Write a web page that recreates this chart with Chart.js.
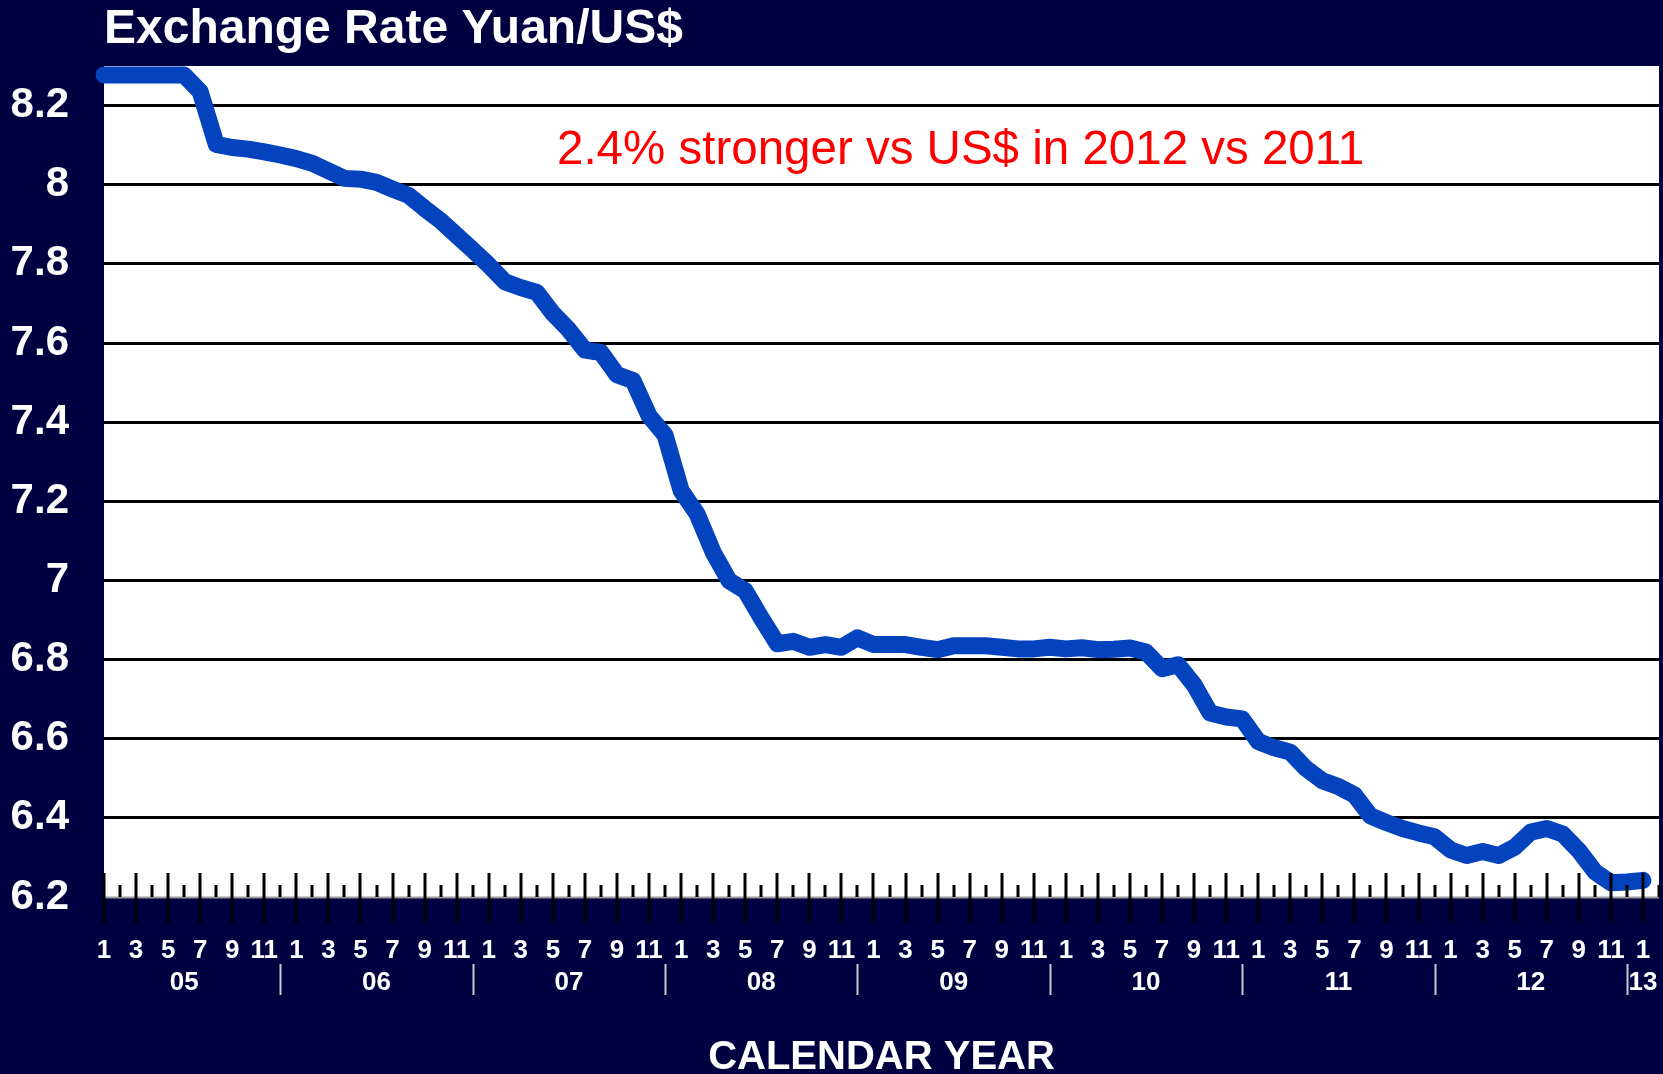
<!DOCTYPE html>
<html>
<head>
<meta charset="utf-8">
<script src="https://cdn.jsdelivr.net/npm/chart.js@4.4.1/dist/chart.umd.min.js"></script>
<style>
  html, body { margin: 0; padding: 0; background: #000040; }
  #wrap { width: 1663px; height: 1074px; position: relative; }
</style>
</head>
<body>
<div id="wrap"><canvas id="c"></canvas></div>
<script>
// ---------- data ----------
const years = ['05', '06', '07', '08', '09', '10', '11', '12', '13'];
const monthTickLabels = ['1', '3', '5', '7', '9', '11'];
// monthly Yuan per US$, Jan 2005 .. Jan 2013
const values = [
  8.277, 8.277, 8.277, 8.277, 8.277, 8.277, 8.235, 8.102, 8.094, 8.090, 8.083, 8.075, // 2005
  8.066, 8.054, 8.035, 8.016, 8.014, 8.006, 7.989, 7.973, 7.940, 7.909, 7.872, 7.835, // 2006
  7.797, 7.755, 7.740, 7.728, 7.675, 7.633, 7.582, 7.576, 7.520, 7.505, 7.416, 7.367, // 2007
  7.227, 7.168, 7.071, 6.999, 6.974, 6.905, 6.840, 6.846, 6.831, 6.838, 6.831, 6.855, // 2008
  6.838, 6.838, 6.838, 6.831, 6.825, 6.835, 6.835, 6.835, 6.831, 6.827, 6.827, 6.831, // 2009
  6.827, 6.830, 6.825, 6.826, 6.829, 6.819, 6.777, 6.787, 6.736, 6.665, 6.655, 6.650, // 2010
  6.593, 6.577, 6.566, 6.524, 6.494, 6.479, 6.458, 6.405, 6.388, 6.373, 6.362, 6.352, // 2011
  6.319, 6.305, 6.315, 6.305, 6.326, 6.364, 6.373, 6.359, 6.317, 6.264, 6.236, 6.238, // 2012
  6.242                                                                               // 2013
];
const yTicks = [6.2, 6.4, 6.6, 6.8, 7.0, 7.2, 7.4, 7.6, 7.8, 8.0, 8.2];
const titleText = 'Exchange Rate Yuan/US$';
const noteText = '2.4% stronger vs US$ in 2012 vs 2011';
const axisTitle = 'CALENDAR YEAR';

// categories: year/month for each value
const categories = values.map((_, i) => years[Math.floor(i / 12)] + '-' + String(i % 12 + 1));
const points = values.map((v, i) => ({ x: i, y: v }));

const FONT = "'Liberation Sans', Arial, Helvetica, sans-serif";
const NAVY = '#000040';

const decor = {
  id: 'decor',
  beforeDraw(chart) {
    const { ctx, chartArea: a } = chart;
    ctx.save();
    ctx.fillStyle = NAVY;
    ctx.fillRect(0, 0, chart.width, chart.height);
    ctx.fillStyle = '#ffffff';
    ctx.fillRect(a.left, a.top, a.right - a.left, a.bottom - a.top);
    ctx.restore();
  },
  afterDraw(chart) {
    const { ctx, chartArea: a } = chart;
    const xs = chart.scales.x;
    ctx.save();
    // axis line
    ctx.strokeStyle = '#9a9a9a';
    ctx.lineWidth = 2;
    ctx.beginPath();
    ctx.moveTo(a.left, a.bottom + 0.5);
    ctx.lineTo(a.right, a.bottom + 0.5);
    ctx.stroke();
    // tick marks
    ctx.strokeStyle = '#000000';
    ctx.lineWidth = 3;
    const n = categories.length;
    for (let i = 0; i <= n; i++) {
      const x = Math.round(xs.getPixelForValue(i));
      ctx.beginPath();
      if (i % 2 === 0) {
        ctx.moveTo(x, a.bottom - 24);
        ctx.lineTo(x, a.bottom + 26);
      } else {
        ctx.moveTo(x, a.bottom - 12);
        ctx.lineTo(x, a.bottom);
      }
      ctx.stroke();
    }
    // month labels
    ctx.fillStyle = '#ffffff';
    ctx.font = 'bold 26px ' + FONT;
    ctx.textAlign = 'center';
    ctx.textBaseline = 'alphabetic';
    for (let i = 0; i < n; i += 2) {
      const m = categories[i].split('-')[1];
      ctx.fillText(m, xs.getPixelForValue(i), 958);
    }
    // year separators & labels
    ctx.strokeStyle = '#c8c8d0';
    ctx.lineWidth = 2;
    years.forEach((yr, k) => {
      const sep = 12 * k + 11;
      if (sep < n) {
        const sx = Math.round(xs.getPixelForValue(sep)) + 0.5;
        ctx.beginPath();
        ctx.moveTo(sx, 964);
        ctx.lineTo(sx, 995);
        ctx.stroke();
      }
      const start = 12 * k - 1;
      const end = Math.min(12 * k + 11, n);
      ctx.fillText(yr, xs.getPixelForValue((start + end) / 2), 990);
    });
    // axis title
    ctx.font = 'bold 40px ' + FONT;
    ctx.fillText(axisTitle, (a.left + a.right) / 2, 1069);
    // main title
    ctx.textAlign = 'left';
    ctx.font = 'bold 48px ' + FONT;
    ctx.fillText(titleText, 104, 43);
    // annotation
    ctx.fillStyle = '#ff0000';
    ctx.font = '47.5px ' + FONT;
    ctx.fillText(noteText, 557, 164);
    ctx.restore();
  }
};

new Chart(document.getElementById('c'), {
  type: 'line',
  data: {
    datasets: [{
      data: points,
      borderColor: '#0343BE',
      borderWidth: 17,
      borderCapStyle: 'round',
      borderJoinStyle: 'round',
      pointRadius: 0,
      tension: 0,
      fill: false,
      clip: false
    }]
  },
  options: {
    responsive: true,
    maintainAspectRatio: false,
    devicePixelRatio: 1,
    animation: false,
    events: [],
    layout: { padding: { top: 66, right: 4, left: 0, bottom: 0 } },
    plugins: { legend: { display: false }, tooltip: { enabled: false }, title: { display: false } },
    scales: {
      x: {
        type: 'linear',
        min: 0,
        max: categories.length,
        grid: { display: false },
        border: { display: false },
        ticks: { display: false },
        afterFit(s) { s.height = 177; }
      },
      y: {
        min: 6.2,
        max: 8.3,
        afterBuildTicks(s) { s.ticks = yTicks.map(v => ({ value: v })); },
        afterFit(s) { s.width = 104; },
        border: { display: false },
        grid: {
          drawTicks: false,
          lineWidth: 3,
          color: (c) => (c.tick && Math.abs(c.tick.value - 6.2) < 1e-6) ? 'rgba(0,0,0,0)' : '#000000'
        },
        ticks: {
          padding: 35,
          color: '#ffffff',
          font: { family: FONT, size: 42, weight: 'bold' },
          callback: (v) => String(Math.round(v * 10) / 10)
        }
      }
    }
  },
  plugins: [decor]
});
</script>
</body>
</html>
